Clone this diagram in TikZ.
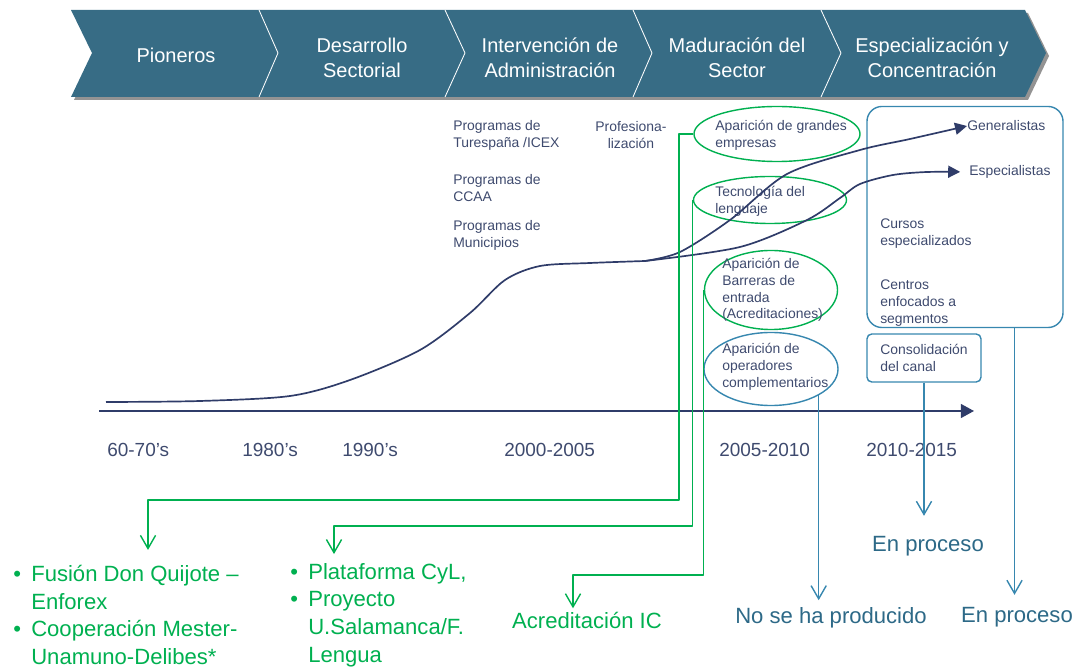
\documentclass[tikz,border=0pt]{standalone}
\usepackage{fontspec}
\setmainfont{Liberation Sans}
\usetikzlibrary{arrows.meta,calc,shapes.geometric}
\definecolor{bannerteal}{RGB}{55,108,133}
\definecolor{navytext}{RGB}{62,74,110}
\definecolor{navyline}{RGB}{47,60,105}
\definecolor{pptgreen}{RGB}{0,176,80}
\definecolor{pptblue}{RGB}{55,135,175}
\definecolor{blueword}{RGB}{45,105,135}
\newcommand{\bulletmark}{\makebox[0.45cm][l]{•}}
\begin{document}
\begin{tikzpicture}[x=0.025cm,y=-0.025cm,line join=round,>={Triangle[length=0.3cm,width=0.3cm]},
	phase/.style={text=white,align=center,inner sep=0pt,font=\fontsize{14.2}{17.8}\selectfont},
	note/.style={text=navytext,align=left,anchor=west,inner sep=0pt,font=\fontsize{9.9}{12}\selectfont},
	year/.style={text=navytext,anchor=west,inner sep=0pt,font=\fontsize{13.5}{16}\selectfont},
	outcome/.style={inner sep=0pt,font=\fontsize{15.7}{19.7}\selectfont},
	gell/.style={draw=pptgreen,ellipse,line width=1pt,inner sep=0pt},
	bell/.style={draw=pptblue,ellipse,line width=1pt,inner sep=0pt},
	gline/.style={draw=pptgreen,line width=1pt,-{Straight Barb[length=0.33cm,width=0.38cm]}},
	bline/.style={draw=pptblue,line width=1pt,-{Straight Barb[length=0.33cm,width=0.38cm]}},
	growth/.style={draw=navyline,line width=1.2pt}]
	\useasboundingbox (0,0) rectangle (1088,668);
	\fill[gray!85] (74,13) -- (1028,13) -- (1049,56) -- (1028,100) -- (74,100) -- (95,56) -- cycle;
	\fill[bannerteal] (71,10) -- (1025,10) -- (1046,53) -- (1025,97) -- (71,97) -- (92,53) -- cycle;
	\draw[white,line width=0.6pt] (259,10) -- (278,53) -- (259,97) (445,10) -- (465,53) -- (445,97)
		(633,10) -- (652,53) -- (633,97) (821,10) -- (841,53) -- (821,97);
	\node[phase] (pioneros) at (176,55) {Pioneros};
	\node[phase] (desarrollo) at (362,58) {Desarrollo\\Sectorial};
	\node[phase] (intervencion) at (550,58) {Intervención de\\Administración};
	\node[phase] (maduracion) at (737,58) {Maduración del\\Sector};
	\node[phase] (especializacion) at (932,58) {Especialización y\\Concentración};

	\node[note] (turespana) at (453,135) {Programas de\\Turespaña /ICEX};
	\node[note] (ccaa) at (453,188) {Programas de\\CCAA};
	\node[note] (municipios) at (453,235) {Programas de\\Municipios};
	\node[note,anchor=center,align=center] (profesional) at (631,135) {Profesiona-\\lización};

	\node[gell,minimum width=4.15cm,minimum height=1.375cm] (grandes) at (777,134) {};
	\node[gell,minimum width=3.825cm,minimum height=1.175cm] (tecnologia) at (770,200) {};
	\node[gell,minimum width=3.325cm,minimum height=1.975cm] (barreras) at (771,290) {};
	\node[bell,minimum width=3.35cm,minimum height=1.825cm] (operadores) at (771,369) {};
	\node[note] at (715,135) {Aparición de grandes\\empresas};
	\node[note] at (715,201) {Tecnología del\\lenguaje};
	\node[note] at (722,290) {Aparición de\\Barreras de\\entrada\\(Acreditaciones)};
	\node[note] at (722,367) {Aparición de\\operadores\\complementarios};

	\node[draw=pptblue,line width=1pt,rounded corners=0.375cm,minimum width=4.9cm,minimum height=5.525cm] (segmentos) at (965,217) {};
	\node[note] (generalistas) at (967,126) {Generalistas};
	\node[note] (especialistas) at (969,172) {Especialistas};
	\node[note] at (880,234) {Cursos\\especializados};
	\node[note] at (880,303) {Centros\\enfocados a\\segmentos};
	\node[draw=pptblue,line width=1pt,rounded corners=0.12cm,minimum width=2.85cm,minimum height=1.2cm,
		text=navytext,align=left,font=\fontsize{9.9}{12}\selectfont] (canal) at (924,358) {Consolidación\\del canal};

	\draw[growth] plot[smooth] coordinates {(106,402) (200,401) (290,396) (350,380) (420,350) (470,313) (505,280) (540,266) (590,263) (645,261)};
	\draw[growth,->] plot[smooth] coordinates {(645,261) (680,252) (730,220) (787,174) (860,150) (910,139) (generalistas.west)};
	\draw[growth,->,shorten >=0.22cm] plot[smooth] coordinates {(645,261) (740,247) (807,220) (840,198) (860,184) (893,175) (927,172) (especialistas.west)};
	\draw[navyline,line width=1.2pt,->,>={Triangle[length=0.33cm,width=0.35cm]}] (99,411) -- (974,411);

	\node[year] (y60) at (107,450) {60-70’s};
	\node[year] (y80) at (242,450) {1980’s};
	\node[year] (y90) at (342,450) {1990’s};
	\node[year] (y00) at (504,450) {2000-2005};
	\node[year] (y05) at (719,450) {2005-2010};
	\node[year] (y10) at (866,450) {2010-2015};

	\node[outcome,text=pptgreen,align=left,anchor=west] (fusion) at (13,615) {\bulletmark Fusión Don Quijote –\\\hspace*{0.45cm}Enforex\\\bulletmark Cooperación Mester-\\\hspace*{0.45cm}Unamuno-Delibes*};
	\node[outcome,text=pptgreen,align=left,anchor=west] (plataforma) at (290,615) {\bulletmark Plataforma CyL,\\\bulletmark Proyecto\\\hspace*{0.45cm}U.Salamanca/F.\\\hspace*{0.45cm}Lengua};
	\node[outcome,text=pptgreen] (acreditacion) at (587,620) {Acreditación IC};
	\node[outcome,text=blueword] (producido) at (831,618) {No se ha producido};
	\node[outcome,text=blueword] (proceso1) at (928,546) {En proceso};
	\node[outcome,text=blueword] (proceso2) at (1017,617) {En proceso};

	\draw[gline,shorten >=0.375cm] (grandes.west) -| (679,500) -| (fusion.north -| 148,0);
	\draw[gline,shorten >=0.22cm] (tecnologia.west) |- (334,526) -- (plataforma.north -| 334,0);
	\draw[gline,shorten >=0.08cm] (barreras.west) |- (573,575) -- (acreditacion.north -| 573,0);
	\draw[bline,shorten >=0.18cm] (operadores.-29) -- (operadores.-29 |- producido.north);
	\draw[bline,shorten >=0.5cm] (canal.south) -- (canal.south |- proceso1.north);
	\draw[bline,shorten >=0.3cm] (segmentos.-66) -- (segmentos.-66 |- proceso2.north);
\end{tikzpicture}
\end{document}
